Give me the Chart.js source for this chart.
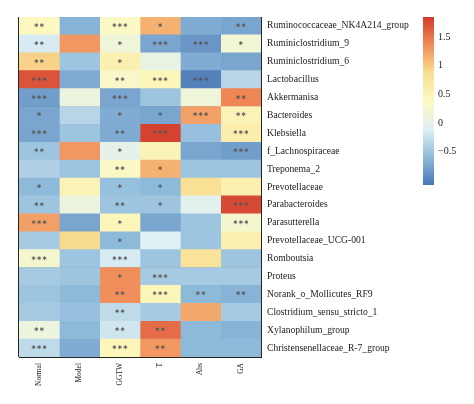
<!DOCTYPE html>
<html>
<head>
<meta charset="utf-8">
<script src="https://cdn.jsdelivr.net/npm/chart.js@4.4.1/dist/chart.umd.min.js"></script>
<style>
body{margin:0;background:#fff;}
#heat{position:absolute;left:0;top:0;}
#legend{position:absolute;left:410px;top:0;}
</style>
</head>
<body>
<canvas id="heat" width="474" height="404"></canvas>
<canvas id="legend" width="64" height="200"></canvas>
<script>
const taxa=[
    "Ruminococcaceae_NK4A214_group","Ruminiclostridium_9","Ruminiclostridium_6","Lactobacillus",
    "Akkermanisa","Bacteroides","Klebsiella","f_Lachnospiraceae","Treponema_2","Prevotellaceae",
    "Parabacteroides","Parasutterella","Prevotellaceae_UCG-001","Romboutsia","Proteus",
    "Norank_o_Mollicutes_RF9","Clostridium_sensu_stricto_1","Xylanophilum_group","Christensenellaceae_R-7_group"
];
const groups=["Normal","Model","GGTW","T","Abs","GA"];

// z-scores per group, one value per taxon (top to bottom)
const normal=[0.4,-0.15,0.95,1.7,-0.8,-0.75,-0.75,-0.5,-0.4,-0.6,-0.5,1.25,-0.45,0.25,-0.45,-0.5,-0.45,0.1,-0.3];
const model=[-0.65,1.3,-0.5,-0.7,0.1,-0.35,-0.5,1.3,-0.5,0.5,0.1,-0.75,0.9,-0.5,-0.5,-0.6,-0.55,-0.6,-0.7];
const ggtw=[0.35,0.15,0.55,0.3,-0.75,-0.7,-0.7,0.0,0.35,-0.55,-0.5,0.45,-0.6,-0.15,1.35,1.35,-0.3,-0.2,0.45];
const tGroup=[1.15,-0.75,0.05,0.45,-0.5,-0.75,1.8,0.5,1.15,-0.6,-0.5,-0.75,-0.1,-0.5,-0.45,0.45,-0.45,1.55,1.3];
const abs=[-0.7,-0.85,-0.7,-1.0,0.15,1.25,-0.55,-0.75,-0.5,0.85,-0.05,-0.5,-0.5,0.8,-0.45,-0.6,1.2,-0.6,-0.6];
const ga=[-0.75,0.2,-0.75,-0.35,1.4,0.5,0.6,-0.8,-0.5,0.55,1.75,0.25,0.55,-0.5,-0.45,-0.65,-0.45,-0.65,-0.6];

// significance marks
const normalStars=["**","**","**","***","***","*","***","**","","*","**","***","","***","","","","**","***"];
const modelStars=["","","","","","","","","","","","","","","","","","",""];
const ggtwStars=["***","*","*","**","***","*","**","*","**","*","**","*","*","***","*","**","**","**","***"];
const tStars=["*","***","","***","","*","***","","*","*","*","","","","***","***","","**","**"];
const absStars=["","***","","***","","***","","","","","","","","","","**","","",""];
const gaStars=["**","*","","","**","**","***","***","","","***","***","","","","**","","",""];

const scaleMin=-1.08;
const scaleMax=1.85;
const barTicks=[-0.5,0,0.5,1,1.5];
const palette=["#4a76b5","#8fbbdb","#e0f0f4","#fcf9c0","#f9df92","#f08d5a","#d2392b"];

const columns=[normal,model,ggtw,tGroup,abs,ga];
const stars=[normalStars,modelStars,ggtwStars,tStars,absStars,gaStars];
const serif="'Liberation Serif','Times New Roman',serif";
const lineColor="#262626";

function hexToRgb(h){
    return [1,3,5].map(i=>parseInt(h.slice(i,i+2),16));
}
function colorFor(v){
    let t=(v-scaleMin)/(scaleMax-scaleMin);
    t=Math.max(0,Math.min(1,t))*(palette.length-1);
    const k=Math.min(Math.floor(t),palette.length-2);
    const f=t-k;
    const a=hexToRgb(palette[k]);
    const b=hexToRgb(palette[k+1]);
    const c=a.map((x,i)=>Math.round(x+(b[i]-x)*f));
    return "rgb("+c.join(",")+")";
}

const starPlugin={
    id:"stars",
    afterDraw(chart){
        const ctx=chart.ctx;
        ctx.save();
        ctx.fillStyle="#555555";
        ctx.font="bold 8px 'DejaVu Sans'";
        ctx.textAlign="center";
        ctx.textBaseline="middle";
        chart.data.datasets.forEach((ds,i)=>{
            chart.getDatasetMeta(i).data.forEach((bar,j)=>{
                const s=stars[i][j];
                if(!s)
                    return;
                const p=bar.getCenterPoint();
                for(let k=0;k<s.length;k++){
                    ctx.fillText("*",p.x+(k-(s.length-1)/2)*5.5,p.y+2);
                }
            });
        });
        ctx.restore();
    }
};

new Chart(
    document.getElementById("heat"),
    {
        type:"bar",
        data:{
            labels:taxa,
            datasets:groups.map((g,i)=>({
                label:g,
                data:taxa.map(()=>1),
                backgroundColor:columns[i].map(colorFor),
                borderWidth:0,
                barPercentage:1,
                categoryPercentage:1
            }))
        },
        options:{
            indexAxis:"y",
            responsive:false,
            animation:false,
            layout:{
                padding:{left:19,top:17}
            },
            plugins:{
                legend:{display:false},
                tooltip:{enabled:false}
            },
            scales:{
                x:{
                    stacked:true,
                    display:false,
                    min:0,
                    max:groups.length
                },
                y:{
                    stacked:true,
                    position:"right",
                    offset:true,
                    z:1,
                    grid:{offset:true,color:lineColor,lineWidth:1,drawTicks:false},
                    border:{color:lineColor},
                    ticks:{
                        padding:6,
                        color:"#1a1a1a",
                        font:{family:serif,size:9.6}
                    },
                    afterFit:s=>{s.width=213;}
                },
                g:{
                    type:"category",
                    labels:groups,
                    position:"bottom",
                    offset:true,
                    z:1,
                    grid:{offset:true,color:lineColor,lineWidth:1,drawTicks:false},
                    border:{color:lineColor},
                    ticks:{
                        minRotation:90,
                        maxRotation:90,
                        autoSkip:false,
                        padding:6,
                        color:"#1a1a1a",
                        font:{family:serif,size:7.5}
                    },
                    afterFit:s=>{s.height=47;}
                }
            }
        },
        plugins:[starPlugin]
    }
);

function gradientFill(c){
    const chart=c.chart;
    if(!chart.chartArea)
        return palette[0];
    const y=chart.scales.y;
    const grad=chart.ctx.createLinearGradient(0,y.getPixelForValue(scaleMin),0,y.getPixelForValue(scaleMax));
    palette.forEach((col,k)=>grad.addColorStop(k/(palette.length-1),col));
    return grad;
}

new Chart(
    document.getElementById("legend"),
    {
        type:"bar",
        data:{
            labels:[""],
            datasets:[{
                data:[[scaleMin,scaleMax]],
                backgroundColor:gradientFill,
                borderWidth:0,
                barPercentage:1,
                categoryPercentage:1
            }]
        },
        options:{
            responsive:false,
            animation:false,
            layout:{
                padding:{left:13,top:17,bottom:15}
            },
            plugins:{
                legend:{display:false},
                tooltip:{enabled:false}
            },
            scales:{
                x:{display:false},
                y:{
                    position:"right",
                    min:scaleMin,
                    max:scaleMax,
                    grid:{display:false,drawTicks:false},
                    border:{display:false},
                    afterBuildTicks:s=>{s.ticks=barTicks.map(v=>({value:v}));},
                    ticks:{
                        padding:4,
                        color:"#1a1a1a",
                        font:{family:serif,size:10},
                        callback:v=>v<0?"\u2212"+Math.abs(v):String(v)
                    },
                    afterFit:s=>{s.width=40;}
                }
            }
        }
    }
);
</script>
</body>
</html>
